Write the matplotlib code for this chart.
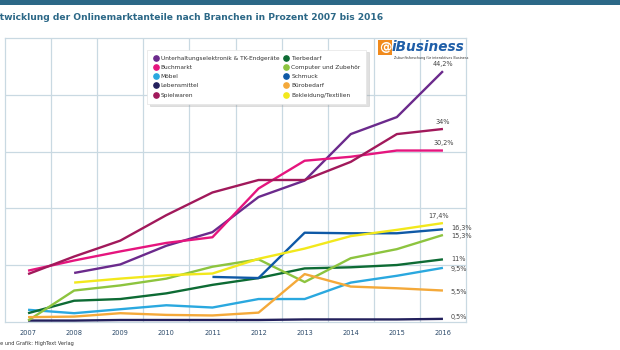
import matplotlib.pyplot as plt
from matplotlib.lines import Line2D
from matplotlib.patches import Rectangle
from matplotlib import font_manager

# Daten (Onlinemarktanteile in Prozent)
jahre = [2007, 2008, 2009, 2010, 2011, 2012, 2013, 2014, 2015, 2016]

unterhaltung = [None, 8.6, 10.1, 13.4, 15.8, 22.0, 24.9, 33.1, 36.1, 44.2]
buchmarkt = [9.0, 10.8, 12.4, 13.9, 14.9, 23.5, 28.4, 29.1, 30.2, 30.2]
moebel = [2.1, 1.5, 2.2, 2.9, 2.5, 4.0, 4.0, 6.9, 8.1, 9.5]
lebensmittel = [0.2, 0.2, 0.3, 0.3, 0.3, 0.3, 0.4, 0.4, 0.4, 0.5]
spielwaren = [8.4, 11.5, 14.3, 18.8, 22.8, 25.0, 25.0, 28.2, 33.1, 34.0]
tierbedarf = [1.5, 3.7, 4.0, 5.0, 6.5, 7.7, 9.4, 9.6, 10.0, 11.0]
computer = [0.2, 5.5, 6.4, 7.6, 9.7, 11.0, 7.0, 11.2, 12.8, 15.3]
schmuck = [None, None, None, None, 7.9, 7.7, 15.7, 15.6, 15.6, 16.3]
buerobedarf = [0.8, 0.9, 1.5, 1.2, 1.1, 1.6, 8.4, 6.2, 5.9, 5.5]
bekleidung = [None, 6.9, 7.6, 8.2, 8.5, 11.1, 12.9, 15.1, 16.2, 17.4]

namen_links = ["Unterhaltungselektronik & TK-Endgeräte", "Buchmarkt", "Möbel",
               "Lebensmittel", "Spielwaren"]
namen_rechts = ["Tierbedarf", "Computer und Zubehör", "Schmuck", "Bürobedarf",
                "Bekleidung/Textilien"]

farben = {
    "Unterhaltungselektronik & TK-Endgeräte": "#6b2a8c",
    "Buchmarkt": "#e5157e",
    "Möbel": "#2aa8df",
    "Lebensmittel": "#23205c",
    "Spielwaren": "#a1195b",
    "Tierbedarf": "#0d6b34",
    "Computer und Zubehör": "#8dc43f",
    "Schmuck": "#0f59a6",
    "Bürobedarf": "#f4a93a",
    "Bekleidung/Textilien": "#f2e81c",
}

serien = {
    "Unterhaltungselektronik & TK-Endgeräte": unterhaltung,
    "Buchmarkt": buchmarkt,
    "Möbel": moebel,
    "Lebensmittel": lebensmittel,
    "Spielwaren": spielwaren,
    "Tierbedarf": tierbedarf,
    "Computer und Zubehör": computer,
    "Schmuck": schmuck,
    "Bürobedarf": buerobedarf,
    "Bekleidung/Textilien": bekleidung,
}

# Endwerte-Beschriftung: (Text, dx in Jahren, dy in Prozent, ha)
endlabels = {
    "Unterhaltungselektronik & TK-Endgeräte": ("44,2%", 0.0, 1.3, "center"),
    "Spielwaren": ("34%", 0.0, 1.3, "center"),
    "Buchmarkt": ("30,2%", 0.02, 1.3, "center"),
    "Bekleidung/Textilien": ("17,4%", -0.1, 1.2, "center"),
    "Schmuck": ("16,3%", 0.17, 0.2, "left"),
    "Computer und Zubehör": ("15,3%", 0.17, -0.2, "left"),
    "Tierbedarf": ("11%", 0.17, 0.0, "left"),
    "Möbel": ("9,5%", 0.17, -0.2, "left"),
    "Bürobedarf": ("5,5%", 0.17, -0.2, "left"),
    "Lebensmittel": ("0,5%", 0.17, 0.3, "left"),
}

# schmale Schrift, falls vorhanden
vorhanden = {f.name for f in font_manager.fontManager.ttflist}
SCHMAL = "Liberation Sans Narrow" if "Liberation Sans Narrow" in vorhanden else "DejaVu Sans"
plt.rcParams["font.family"] = [SCHMAL, "DejaVu Sans"]

GRID = "#c9d9e2"
TITEL = "#2c6887"

fig = plt.figure(figsize=(6.2, 3.5), dpi=100)
fig.patch.set_facecolor("white")

# Balken oben + Titel + Quelle
fig.add_artist(Rectangle((0, 1 - 5 / 350), 1, 5 / 350, transform=fig.transFigure,
                         color=TITEL, lw=0))
titel = fig.text(0, 1 - 17 / 350,
                 "Entwicklung der Onlinemarktanteile nach Branchen in Prozent 2007 bis 2016",
                 fontsize=6.6, fontweight="bold", color=TITEL, va="center", ha="left")
quelle = fig.text(0, 1 - 343 / 350, "Quelle und Grafik: HighText Verlag",
                  fontsize=3.6, color="#333333", va="center", ha="left")

# linken Teil ("En" / "Quell") abschneiden wie im Original
fig.canvas.draw()
r = fig.canvas.get_renderer()
for t, weg in [(titel, "En"), (quelle, "Quell")]:
    hilf = fig.text(0, 0, weg, fontsize=t.get_fontsize(), fontweight=t.get_fontweight())
    breite = hilf.get_window_extent(r).width
    hilf.remove()
    t.set_x(-breite / fig.bbox.width)

ax = fig.add_axes([5 / 620, 1 - 321.7 / 350, 461 / 620, 283.4 / 350])

for name, werte in serien.items():
    xs = [j for j, v in zip(jahre, werte) if v is not None]
    ys = [v for v in werte if v is not None]
    ax.plot(xs, ys, color=farben[name], lw=1.7, solid_capstyle="butt", zorder=3)
    text, dx, dy, ha = endlabels[name]
    ax.text(xs[-1] + dx, ys[-1] + dy, text, fontsize=4.7, color="#444444",
            ha=ha, va="center", zorder=4)

ax.set_xlim(2006.5, 2016.5)
ax.set_ylim(0, 50)
ax.set_xticks(jahre)
ax.set_xticklabels([str(j) for j in jahre], fontsize=4.8, color="#2c4a6a")
ax.set_xticks([j + 0.5 for j in jahre[:-1]], minor=True)
ax.set_yticks([10, 20, 30, 40])
ax.set_yticklabels([])
ax.tick_params(axis="both", which="both", length=0, pad=6)
ax.grid(True, which="minor", axis="x", color=GRID, lw=0.9, zorder=0)
ax.grid(True, which="major", axis="y", color=GRID, lw=0.9, zorder=0)
for s in ax.spines.values():
    s.set_color(GRID)
    s.set_linewidth(0.9)

# Legende
handles = [Line2D([], [], marker="o", ls="", color=farben[n], markersize=3.8)
           for n in namen_links + namen_rechts]
leg = ax.legend(handles, namen_links + namen_rechts, ncol=2, fontsize=4.2,
                loc="upper left", bbox_to_anchor=(0.302, 0.97), frameon=True,
                fancybox=False, shadow={"color": "#999999", "alpha": 0.3},
                handletextpad=0.4, columnspacing=0.8, labelspacing=0.72,
                borderpad=1.0, handlelength=0.9)
leg.get_frame().set_edgecolor("#e4e4e4")
leg.get_frame().set_linewidth(0.5)
for t in leg.get_texts():
    t.set_color("#333333")
leg.set_zorder(5)

# Logo
fig.add_artist(Rectangle((378 / 620, 1 - 55 / 350), 14 / 620, 15 / 350,
                         transform=fig.transFigure, color="#f08a1c", lw=0))
fig.text(385 / 620, 1 - 47.5 / 350, "@", fontsize=9, fontweight="bold",
         color="white", ha="center", va="center", family="DejaVu Sans")
fig.text(392 / 620, 1 - 47 / 350, "iBusiness", fontsize=9.8, fontweight="bold",
         style="italic", color="#1f5ea8", ha="left", va="center", family="DejaVu Sans")
fig.text(394 / 620, 1 - 57.5 / 350, "Zukunftsforschung für interaktives Business",
         fontsize=2.4, color="#333333", ha="left", va="center", family="DejaVu Sans")

fig.savefig("out.png", dpi=100)
